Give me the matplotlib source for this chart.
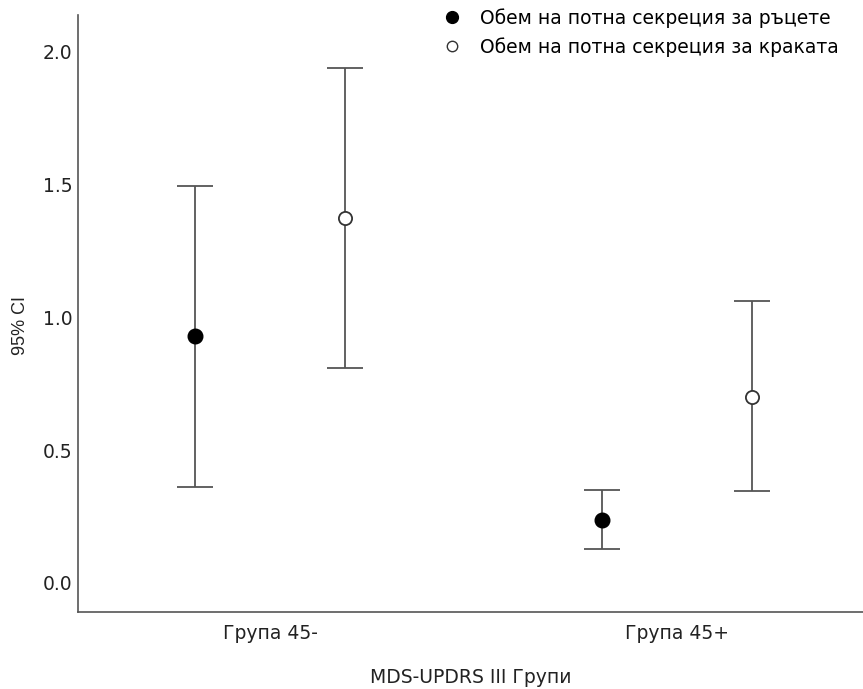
import numpy as np
import matplotlib
matplotlib.use('Agg')
import matplotlib.pyplot as plt
from matplotlib.lines import Line2D

groups = ['Група 45-', 'Група 45+']
series = ['Обем на потна секреция за ръцете', 'Обем на потна секреция за краката']
means_hands = [0.93, 0.235]
low_hands = [0.36, 0.128]
high_hands = [1.495, 0.35]
means_feet = [1.375, 0.70]
low_feet = [0.81, 0.345]
high_feet = [1.94, 1.062]

plt.rcParams['font.family'] = ['DejaVu Sans']

fig = plt.figure(figsize=(8.63, 6.89), dpi=100)
ax = fig.add_axes([0.0904, 0.1118, 0.9096, 0.867])

x = np.arange(len(groups))
dodge = 0.184
errcol = '#555555'

m = np.array(means_hands)
yerr = [m - np.array(low_hands), np.array(high_hands) - m]
ax.errorbar(x - dodge, m, yerr=yerr, fmt='o', color=errcol, ecolor=errcol, elinewidth=1.3,
            capsize=13, capthick=1.3, markersize=10.5, markerfacecolor='black',
            markeredgecolor='black', label=series[0], zorder=3)

m = np.array(means_feet)
yerr = [m - np.array(low_feet), np.array(high_feet) - m]
ax.errorbar(x + dodge, m, yerr=yerr, fmt='o', color=errcol, ecolor=errcol, elinewidth=1.3,
            capsize=13, capthick=1.3, markersize=9.5, markerfacecolor='white',
            markeredgecolor='#333333', markeredgewidth=1.3, label=series[1], zorder=3)

ax.set_xlim(-0.472, 1.457)
ax.set_ylim(-0.11, 2.14)
ax.set_xticks(x)
ax.set_xticklabels(groups)
ax.set_yticks([0.0, 0.5, 1.0, 1.5, 2.0])
ax.set_yticklabels(['0.0', '0.5', '1.0', '1.5', '2.0'])
ax.tick_params(axis='both', length=0, labelsize=13.5, colors='#222222')
ax.tick_params(axis='x', pad=9)
ax.tick_params(axis='y', pad=4)

for s in ['top', 'right']:
    ax.spines[s].set_visible(False)
for s in ['left', 'bottom']:
    ax.spines[s].set_color('#555555')
    ax.spines[s].set_linewidth(1.2)

ax.set_xlabel('MDS-UPDRS III Групи', fontsize=13.5, labelpad=18, color='#222222')
ax.set_ylabel('95% CI', fontsize=13, family='Liberation Sans', color='#222222')
ax.yaxis.set_label_coords(-0.062, 0.48)

hh = [Line2D([], [], marker='o', linestyle='none', markerfacecolor='black', markeredgecolor='black', markersize=8.5),
      Line2D([], [], marker='o', linestyle='none', markerfacecolor='white', markeredgecolor='#333333', markersize=7.5)]
ax.legend(hh, series, loc='upper right', bbox_to_anchor=(0.984, 1.03), frameon=False, fontsize=13.5,
          handletextpad=0.5, labelspacing=0.5, borderaxespad=0.2)

fig.savefig('out.png', dpi=100)
